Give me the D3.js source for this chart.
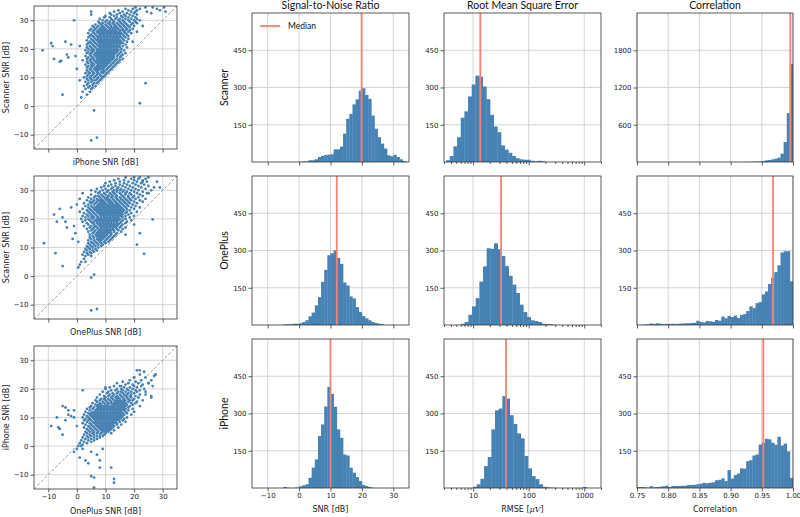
<!DOCTYPE html>
<html><head><meta charset="utf-8">
<script src="https://cdn.jsdelivr.net/npm/d3@7"></script>
<style>body{margin:0;background:#fff}</style>
</head><body><div id="chart"></div>
<script>
// ---------------- DATA ----------------
const devices = ["Scanner", "OnePlus", "iPhone"];
const metricTitles = ["Signal-to-Noise Ratio", "Root Mean Square Error", "Correlation"];
const metricLabels = ["SNR [dB]", "RMSE", "Correlation"];
const snrTicks = [-10, 0, 10, 20, 30];
const snrDomain = [-15, 35];
const countTicks = [150, 300, 450];
const countTicksBig = [600, 1200, 1800];
const rmseTicks = [10, 100, 1000];
const rmseDomain = [3, 2000];
const corrTicks = [0.75, 0.80, 0.85, 0.90, 0.95, 1.00];
const corrDomain = [0.75, 1.0];

// SNR histograms: 1 dB bins
const snrBinStart = [0, -5, -5];
const snrScanner = [1,2,3,7,7,11,20,25,28,30,31,51,51,62,114,174,194,232,252,288,297,270,254,187,134,100,74,54,27,23,29,20,11,4];
const snrOnePlus = [3,3,3,5,5,7,12,19,35,50,79,112,174,222,281,289,300,270,246,171,159,115,107,72,52,36,27,19,12,8,5,3];
const snrIPhone = [4,1,0,1,2,7,11,15,41,82,115,209,256,328,407,379,327,236,202,135,131,82,62,44,28,12,8,4,1];
const snrMedians = [19.9, 12.0, 10.0];

// RMSE histograms: log-spaced bins (start in µV, width in decades)
const rmseBinStart = [3.27, 6.08, 10.0];
const rmseBinWidthDecades = 0.0659;
const rmseScanner = [7,24,63,100,178,204,264,312,348,344,304,253,190,143,120,67,50,37,24,15,11,9,9,5,3,5,3];
const rmseOnePlus = [5,12,41,75,108,175,236,309,307,329,305,278,237,198,163,129,82,52,32,19,16,12,5,4,3,1];
const rmseIPhone = [5,15,37,88,125,236,313,320,370,360,293,258,220,200,129,79,48,36,15,5,3,1,1,0,0,0,0,0,0,0,4];
const rmseMedians = [13.5, 31.9, 39.2];

// Correlation histograms: 0.005 bins from 0.75
const corrBinStart = 0.75;
const corrBinWidth = 0.005;
const corrScanner = [0,0,0,0,0,0,0,0,0,0,0,0,0,0,0,0,0,0,0,0,0,0,0,0,0,0,0,0,0,0,0,1,1,1,2,2,3,4,6,10,16,27,32,43,54,70,134,321,787,1575];
const corrOnePlus = [0,1,2,3,6,4,7,5,3,5,4,5,4,5,6,7,7,8,9,17,12,10,16,15,13,20,17,34,27,36,32,38,28,40,44,56,75,68,88,92,123,135,165,190,213,240,292,297,297,176];
const corrIPhone = [4,4,3,1,7,3,4,5,7,9,4,8,8,8,9,9,12,12,13,15,17,21,19,21,23,31,33,39,28,72,38,52,58,79,78,108,112,131,135,175,182,198,196,182,174,206,171,179,147,40];
const corrMedians = [0.9957, 0.968, 0.9525];

// Scatter data: rows of [y, x1, x2, ...] plus outlier points [x, y]
const scanVsIphoneRows = [
 [34.5,20.5,24,26.5],[34,17,19.5,22],[33.5,14.5,18,21],[33,13,16,19,20.5],[32.5,11.5,15,17.5,20],
 [32,12,14,16.5,18.5,21],[31.5,10,13,15.5,17,19.5],[31,9.5,11.5,14,16,18,20.5],[30.5,8,12,13.5,15,17,19,21],
 [30,9,10.5,12.5,14.5,16,18,20],[29.5,7.5,10,11.5,13,15,16.5,18.5,20.5],[29,8,9,11,12.5,14,15.5,17,19.5],
 [28.5,6.5,8.5,10,11.5,13,14.5,16,17.5,19],[28,5.5,7.5,9,10.5,12,13.5,15,16.5,18,20],
 [27.5,6,7,8.5,9.5,11,12,13,14,15.5,17,18.5],[27,5,6.5,8,9,10,11.5,12.5,13.5,14.5,16,17.5,19.5],
 [26.5,4.5,6,7.5,8.5,9.5,10.5,11.5,12.5,13.5,15,16,17,18.5],[26,5.5,7,8,9,10,11,12,13,14,15,16.5,18],
 [25.5,4,6,7.5,8.5,9.5,10.5,11.5,12.5,13.5,14.5,15.5,17,19],[25,5,6.5,8,9,10,11,12,13,14,15,16,17.5],
 [24.5,4.5,5.5,7,8,9,10,11,12,13,14,15,16.5,18],[24,4,6,7.5,8.5,9.5,10.5,11.5,12.5,13.5,14.5,15.5,17],
 [23.5,5,6.5,7.5,8.5,9.5,10.5,11.5,12.5,13.5,14.5,16,18],[23,3.5,5.5,7,8,9,10,11,12,13,14,15,16.5],
 [22.5,4.5,6,7.5,8.5,9.5,10.5,11.5,12.5,13.5,14.5,15.5,17.5],[22,4,5,6.5,8,9,10,11,12,13,14,15,16],
 [21.5,3.5,5.5,7,8,9,10,11,12,13,14,15,17],[21,4.5,6,7.5,8.5,9.5,10.5,11.5,12.5,13.5,14.5,16],
 [20.5,3.5,5,6.5,8,9,10,11,12,13,14,15,17.5],[20,4,5.5,7,8,9,10,11,12,13,14,15.5],
 [19.5,3,5,6,7.5,8.5,9.5,10.5,11.5,12.5,13.5,14.5,16.5],[19,4,5.5,7,8,9,10,11,12,13,14,15.5],
 [18.5,3.5,5,6.5,7.5,8.5,9.5,10.5,11.5,12.5,13.5,15,17],[18,4.5,6,7,8,9,10,11,12,13,14.5,16],
 [17.5,3,5,6.5,7.5,8.5,9.5,10.5,11.5,12.5,14,15.5],[17,4,5.5,7,8,9,10,11,12,13,15],
 [16.5,3.5,5,6,7.5,8.5,9.5,10.5,11.5,12.5,14,16],[16,4.5,6,7,8,9,10,11,12,13.5,15],
 [15.5,3.5,5,6.5,7.5,8.5,9.5,10.5,11.5,13,14.5],[15,4,5.5,7,8,9,10,11,12.5,14],
 [14.5,3,5,6,7.5,8.5,9.5,10.5,12,13.5],[14,4,5.5,7,8,9,10,11.5,13],[13.5,3.5,5,6.5,7.5,8.5,9.5,11,12.5],
 [13,4.5,6,7,8,9,10.5,12],[12.5,3.5,5,6.5,7.5,9,10,11.5],[12,4,5.5,7,8.5,9.5,11],[11.5,3,4.5,6,7.5,9,10.5],
 [11,4,5.5,7,8,10],[10.5,3.5,5,6.5,8.5,9.5],[10,2.5,4.5,6,7.5,9],[9.5,3.5,5,7,8.5],[9,4,5.5,6.5,8],
 [8.5,3,5,7.5],[8,4,6,7],[7.5,3.5,5.5],[7,2.5,4.5,6.5],[6.5,4,5.5],[6,3,5],[5,2,4.5],[4,3.5],[3,1.5]
];
const scanVsIphoneOut = [[-12,19.5],[-9,22],[-8.5,21],[-8,16.5],[-6,15.5],[-5.5,15.8],[-4,22.5],[-3.5,18],[-2,21.5],[-3,17],[-1,30],[-5,4],[5,-12],[7,-11],[6,-1.5],[22,1],[24,8],[21,29],[24.5,33],[26,32.5],[28,34],[29,33.5],[30.5,34.5],[31,33],[5,32],[5,33],[1,21],[2,16],[0,13],[1,9],[13,24.5],[19.5,22.5],[21,26],[22,30],[23,28],[-0.5,17.5]];

const scanVsOneRows = [
 [34.5,17,22,25],[34,14.5,19,21.5,24],[33.5,13,16.5,20,23],[33,11.5,15,18,21,24.5],[32.5,10,13.5,16.5,19.5,22.5],
 [32,12,15,17.5,20.5,23.5],[31.5,9.5,11,13.5,16,18.5,21.5,25],[31,8.5,12.5,14.5,17,19.5,22.5],
 [30.5,7,10,12,14,15.5,18,20.5,24],[30,9,11,13,15,16.5,19,21.5,26],[29.5,6.5,8,10.5,12.5,14,16,17.5,20,23],
 [29,7.5,9.5,11.5,13,15,17,18.5,21,24.5],[28.5,5,8.5,10,12,13.5,15.5,17,19,22],[28,6.5,7.5,9,11,12.5,14,16,18,20,23],
 [27.5,4,6,8,9.5,10.5,12,13.5,15,16.5,18,19.5,21.5],[27,5,7,8.5,10,11,12.5,14,15.5,17,18.5,20.5,24],
 [26.5,3.5,6,7.5,9,10.5,11.5,13,14.5,16,17.5,19,22],[26,4.5,5.5,7,8.5,9.5,11,12,13.5,15,16.5,18,20,23],
 [25.5,2.5,5,6.5,8,9,10,11.5,12.5,14,15.5,17,18.5,21],[25,4,6,7.5,8.5,9.5,10.5,11.5,12.5,13.5,14.5,16,17.5,19.5],
 [24.5,3,5,7,8,9,10,11,12,13,14,15,16.5,18,20.5],[24,4,5.5,6.5,7.5,8.5,9.5,10.5,11.5,12.5,13.5,14.5,15.5,17,19,22],
 [23.5,2,4.5,6,7,8,9,10,11,12,13,14,15,16,17.5,20],[23,3.5,5,6.5,7.5,8.5,9.5,10.5,11.5,12.5,13.5,14.5,15.5,16.5,18.5],
 [22.5,1,4,5.5,7,8,9,10,11,12,13,14,15,16,17.5,21],[22,2.5,4.5,6,7.5,8.5,9.5,10.5,11.5,12.5,13.5,14.5,15.5,17,19],
 [21.5,3.5,5,6.5,8,9,10,11,12,13,14,15,16,18],[21,2,4,5.5,7,8.5,9.5,10.5,11.5,12.5,13.5,14.5,15.5,17,20],
 [20.5,3,5,6,7.5,8.5,9.5,10.5,11.5,12.5,13.5,14.5,16,18.5],[20,1.5,4,5.5,7,8,9,10,11,12,13,14,15,17],
 [19.5,3,4.5,6.5,7.5,8.5,9.5,10.5,11.5,12.5,13.5,14.5,16,19],[19,2,5,6,7,8,9,10,11,12,13,14,15.5,17.5],
 [18.5,3.5,5.5,7,8,9,10,11,12,13,14,15,17],[18,4,6,7.5,8.5,9.5,10.5,11.5,12.5,13.5,14.5,16,20],
 [17.5,2.5,5,6.5,8,9,10,11,12,13,14,15.5],[17,4.5,6,7,8.5,9.5,10.5,11.5,12.5,13.5,15,17],
 [16.5,3.5,5.5,7.5,8.5,9.5,10.5,11.5,12.5,14,16],[16,5,6.5,8,9,10,11,12,13,14.5],
 [15.5,4,6,7.5,8.5,9.5,10.5,11.5,13,15.5],[15,5.5,7,8,9,10,11,12,14],[14.5,4.5,6.5,7.5,8.5,9.5,10.5,12,13.5,17],
 [14,5.5,7,8,9,10,11.5,13],[13.5,4.5,6,7.5,8.5,9.5,11,12.5],[13,5,7,8,9,10.5,12],[12.5,4,6,7.5,8.5,10,11.5],
 [12,5,6.5,8,9.5,11],[11.5,4,5.5,7,8.5,10],[11,4.5,6,7.5,9],[10.5,3.5,5,6.5,8.5],[10,4,5.5,7.5],[9.5,3,4.5,6.5],
 [9,3.5,5.5,7],[8.5,2.5,4.5,6],[8,3.5,5],[7.5,2,4],[7,3,5],[6,2.5],[5,1.5,3],[4,1],[3,0.5]
];
const scanVsOneOut = [[-11.5,11.5],[-8,21.5],[-7,19],[-6,23.5],[-5,20.5],[-4,19],[-3.5,17],[-2,24],[-1,17.5],[-0.5,15],[0,25],[-7.5,8],[-5,3.5],[-1.5,13],[0.5,12],[1,27],[2,29],[5,-12],[7,-11.5],[5,-0.5],[6,0.5],[23.5,7.8],[26.5,19.8],[27,31],[28,33],[25,29],[29,31],[23,33],[20,34.5],[11,28],[14,30],[21,11],[22,15],[8,26.5],[5,30]];

const iphVsOneRows = [
 [26.5,21],[26,23.5],[25,22,27.5],[24,20,24],[23,18.5,22.5,26],[22.5,16,20.5],[22,14,18,21.5,25],[21.5,17,19.5,23],
 [21,13,15.5,20,22.5,26.5],[20.5,11.5,16.5,18.5,21],[20,10,14,15.5,17.5,19.5,23.5],[19.5,12,13.5,16,18,20.5,22],
 [19,9,11,14.5,15.5,17,19,21,24],[18.5,10.5,12.5,14,16,18,20],[18,8,11.5,13,15,16.5,17.5,19,22],
 [17.5,9.5,11,12.5,14,15.5,17,18.5,20.5],[17,7,10,12,13.5,14.5,16,17.5,19,21.5,26],
 [16.5,8.5,9.5,11,12.5,14,15,16.5,18,20],[16,6.5,8,10,11.5,13,14,15,16,17,18.5,19.5,23],
 [15.5,7,9,10.5,12,13.5,14.5,15.5,16.5,18,21],[15,5.5,8,9.5,11,12,13,14,15,16,17,19,20.5],
 [14.5,6.5,7.5,8.5,10,11,12.5,13.5,14.5,15.5,16.5,17.5,19.5],[14,5,7,8,9,10,11,12,13,14,15,16,17,18.5,22],
 [13.5,4.5,6,7.5,8.5,9.5,10.5,11.5,12.5,13.5,14.5,15.5,16.5,18],[13,3.5,5.5,7,8,9,10,11,12,13,14,15,16,17,19.5],
 [12.5,4.5,6.5,7.5,8.5,9.5,10.5,11.5,12.5,13.5,14.5,15.5,16.5,18],[12,3,5.5,6.5,7.5,8.5,9.5,10.5,11.5,12.5,13.5,14.5,15.5,17,20],
 [11.5,4,5,6,7,8,9,10,11,12,13,14,15,16,17.5],[11,2.5,4.5,5.5,6.5,7.5,8.5,9.5,10.5,11.5,12.5,13.5,14.5,15.5,16.5,19],
 [10.5,3.5,5,6,7,8,9,10,11,12,13,14,15,16],[10,2,4,5.5,6.5,7.5,8.5,9.5,10.5,11.5,12.5,13.5,14.5,15.5,17.5],
 [9.5,3,4.5,6,7,8,9,10,11,12,13,14,15,16.5],[9,2.5,4,5,6.5,7.5,8.5,9.5,10.5,11.5,12.5,13.5,14.5,16],
 [8.5,3.5,5.5,6.5,7.5,8.5,9.5,10.5,11.5,12.5,13.5,15,17],[8,2,4.5,6,7,8,9,10,11,12,13,14],
 [7.5,3,5,6.5,7.5,8.5,9.5,10.5,11.5,12.5,14,15.5],[7,4,5.5,7,8,9,10,11,12,13],
 [6.5,2.5,4.5,6,7.5,8.5,9.5,10.5,11.5,12.5,14.5],[6,3.5,5,6.5,8,9,10,11,12],[5.5,4,5.5,7,8.5,9.5,10.5,11.5,13],
 [5,3,4.5,6,7.5,9,10,11],[4.5,3.5,5.5,7,8.5,10,12],[4,2.5,4.5,6,8,9.5],[3.5,3.5,5,7,9],[3,2,4,6,8],
 [2.5,3,5,7],[2,1.5,4,6],[1.5,2.5,5],[1,1,3.5],[0.5,2],[0,0.5,1.5],[-1,0,2],[-2,-1]
];
const iphVsOneOut = [[-9,7],[-7,10],[-6.5,6.5],[-6,6],[-5,4],[-5,14],[-4,13.5],[-3,12.5],[-3,11],[-2,10.5],[-1,10],[-1,12.5],[0,7],[-4,9],[2,19.5],[5,-10.5],[6,-11],[6,-14.5],[7,-3],[8,-7.5],[8,-5],[12,-7.5],[13,-11.5],[13,-12.8],[5,-2],[3,-5],[9,-1],[10,20.5],[15,21],[20,24],[22,26.5],[25,22],[27,24.5],[26,17.5],[27.5,25],[24,18],[1,-4],[4,-6]];

// ---------------- DRAW ----------------
const BLUE = "#4682b4", MED = "#fa8072", GRID = "#cfcfcf", SPINE = "#333";
const svg = d3.select("#chart").append("svg").attr("width", 800).attr("height", 517)
  .style("font-family", "DejaVu Sans");
const defs = svg.append("defs");

function styleAxis(g, labels) {
  g.select(".domain").remove();
  g.selectAll(".tick line").attr("stroke", SPINE).attr("stroke-width", 0.8);
  g.selectAll(".tick text").attr("fill", "#222").style("font-size", "7px").style("font-family", "DejaVu Sans");
  if (!labels) g.selectAll(".tick text").remove();
}
const fmtMinus = v => (v < 0 ? "\u2212" + Math.abs(v) : "" + v);

// Scatter panels
const spX = [34, 177], spRows = [6, 176, 346], spH = 143;
const scatterDefs = [
  { rows: scanVsIphoneRows, out: scanVsIphoneOut, xl: "iPhone SNR [dB]", yl: "Scanner SNR [dB]" },
  { rows: scanVsOneRows, out: scanVsOneOut, xl: "OnePlus SNR [dB]", yl: "Scanner SNR [dB]" },
  { rows: iphVsOneRows, out: iphVsOneOut, xl: "OnePlus SNR [dB]", yl: "iPhone SNR [dB]" }
];
scatterDefs.forEach((d, i) => {
  const top = spRows[i], bot = top + spH;
  const x = d3.scaleLinear().domain(snrDomain).range(spX);
  const y = d3.scaleLinear().domain(snrDomain).range([bot, top]);
  const g = svg.append("g");
  const cid = "clipS" + i;
  defs.append("clipPath").attr("id", cid).append("rect").attr("x", spX[0]).attr("y", top).attr("width", spX[1] - spX[0]).attr("height", spH);
  g.selectAll(".gx").data(snrTicks).join("line").attr("x1", v => x(v)).attr("x2", v => x(v)).attr("y1", top).attr("y2", bot).attr("stroke", GRID).attr("stroke-width", 0.9);
  g.selectAll(".gy").data(snrTicks).join("line").attr("y1", v => y(v)).attr("y2", v => y(v)).attr("x1", spX[0]).attr("x2", spX[1]).attr("stroke", GRID).attr("stroke-width", 0.9);
  const pts = [];
  d.rows.forEach(r => r.slice(1).forEach(v => pts.push([v, r[0]])));
  d.out.forEach(p => pts.push(p));
  const pg = g.append("g").attr("clip-path", `url(#${cid})`);
  pg.selectAll("circle").data(pts).join("circle").attr("cx", p => x(p[0])).attr("cy", p => y(p[1])).attr("r", 1.4).attr("fill", BLUE);
  pg.append("line").attr("x1", x(snrDomain[0])).attr("y1", y(snrDomain[0])).attr("x2", x(snrDomain[1])).attr("y2", y(snrDomain[1]))
    .attr("stroke", "#888").attr("stroke-width", 0.8).attr("stroke-dasharray", "3,2");
  g.append("rect").attr("x", spX[0]).attr("y", top).attr("width", spX[1] - spX[0]).attr("height", spH).attr("fill", "none").attr("stroke", SPINE).attr("stroke-width", 0.8);
  const ax = g.append("g").attr("transform", `translate(0,${bot})`).call(d3.axisBottom(x).tickValues(snrTicks).tickSize(3.5).tickPadding(2).tickFormat(fmtMinus));
  styleAxis(ax, i === 2);
  const ay = g.append("g").attr("transform", `translate(${spX[0]},0)`).call(d3.axisLeft(y).tickValues(snrTicks).tickSize(3.5).tickPadding(2).tickFormat(fmtMinus));
  styleAxis(ay, true);
  g.append("text").attr("x", (spX[0] + spX[1]) / 2).attr("y", i === 2 ? bot + 25 : bot + 16).attr("text-anchor", "middle").style("font-size", "8px").attr("fill", "#222").text(d.xl);
  g.append("text").attr("transform", `translate(9,${(top + bot) / 2}) rotate(-90)`).attr("text-anchor", "middle").style("font-size", "8px").attr("fill", "#222").text(d.yl);
});

// Histogram panels
const hCols = [[252, 409], [444, 601], [637, 793]], hRows = [13, 176, 339], hH = 149;
const snrData = [snrScanner, snrOnePlus, snrIPhone];
const rmseData = [rmseScanner, rmseOnePlus, rmseIPhone];
const corrData = [corrScanner, corrOnePlus, corrIPhone];

for (let c = 0; c < 3; c++) {
  for (let r = 0; r < 3; r++) {
    const top = hRows[r], bot = top + hH, [l, rt] = hCols[c];
    const g = svg.append("g");
    let x, bins, xt, med, fmt;
    if (c === 0) {
      x = d3.scaleLinear().domain(snrDomain).range([l, rt]);
      bins = snrData[r].map((v, k) => ({ a: snrBinStart[r] + k, b: snrBinStart[r] + k + 1, n: v }));
      xt = snrTicks; med = snrMedians[r]; fmt = fmtMinus;
    } else if (c === 1) {
      x = d3.scaleLog().domain(rmseDomain).range([l, rt]);
      const s = Math.log10(rmseBinStart[r]);
      bins = rmseData[r].map((v, k) => ({ a: Math.pow(10, s + k * rmseBinWidthDecades), b: Math.pow(10, s + (k + 1) * rmseBinWidthDecades), n: v }));
      xt = rmseTicks; med = rmseMedians[r]; fmt = d => "" + d;
    } else {
      x = d3.scaleLinear().domain(corrDomain).range([l, rt]);
      bins = corrData[r].map((v, k) => ({ a: corrBinStart + k * corrBinWidth, b: corrBinStart + (k + 1) * corrBinWidth, n: v }));
      xt = corrTicks; med = corrMedians[r]; fmt = d3.format(".2f");
    }
    const big = (c === 2 && r === 0);
    const y = d3.scaleLinear().domain([0, big ? 2400 : 600]).range([bot, top]);
    const yt = big ? countTicksBig : countTicks;
    g.selectAll(".gx").data(xt).join("line").attr("x1", v => x(v)).attr("x2", v => x(v)).attr("y1", top).attr("y2", bot).attr("stroke", GRID).attr("stroke-width", 0.9);
    g.selectAll(".gy").data(yt).join("line").attr("y1", v => y(v)).attr("y2", v => y(v)).attr("x1", l).attr("x2", rt).attr("stroke", GRID).attr("stroke-width", 0.9);
    const cid = `clipH${c}${r}`;
    defs.append("clipPath").attr("id", cid).append("rect").attr("x", l).attr("y", top).attr("width", rt - l).attr("height", hH);
    const bg = g.append("g").attr("clip-path", `url(#${cid})`);
    bg.selectAll("rect").data(bins.filter(b => b.n > 0)).join("rect")
      .attr("x", b => x(b.a)).attr("width", b => Math.max(0.5, x(b.b) - x(b.a) + 0.3))
      .attr("y", b => y(b.n)).attr("height", b => y(0) - y(b.n)).attr("fill", BLUE);
    bg.append("line").attr("x1", x(med)).attr("x2", x(med)).attr("y1", top).attr("y2", bot).attr("stroke", MED).attr("stroke-width", 1.8);
    g.append("rect").attr("x", l).attr("y", top).attr("width", rt - l).attr("height", hH).attr("fill", "none").attr("stroke", SPINE).attr("stroke-width", 0.8);
    const ax = g.append("g").attr("transform", `translate(0,${bot})`).call(d3.axisBottom(x).tickValues(xt).tickSize(3.5).tickPadding(2).tickFormat(fmt));
    styleAxis(ax, r === 2);
    if (c === 1) {
      const minor = x.ticks().filter(v => !rmseTicks.includes(v));
      const am = g.append("g").attr("transform", `translate(0,${bot})`).call(d3.axisBottom(x).tickValues(minor).tickSize(2).tickFormat(""));
      styleAxis(am, false);
    }
    const ay = g.append("g").attr("transform", `translate(${l},0)`).call(d3.axisLeft(y).tickValues(yt).tickSize(3.5).tickPadding(2).tickFormat(d3.format("d")));
    styleAxis(ay, true);
    if (r === 0) {
      g.append("text").attr("x", (l + rt) / 2).attr("y", 9).attr("text-anchor", "middle").style("font-family", "Lato").style("font-size", "10.5px").attr("fill", "#111").text(metricTitles[c]);
    }
    if (c === 0) {
      g.append("text").attr("transform", `translate(228,${(top + bot) / 2}) rotate(-90)`).attr("text-anchor", "middle").style("font-family", "Lato").style("font-size", "10.5px").attr("fill", "#111").text(devices[r]);
    }
    if (r === 2) {
      const t = g.append("text").attr("x", (l + rt) / 2).attr("y", bot + 24).attr("text-anchor", "middle").style("font-size", "8px").attr("fill", "#222");
      if (c === 1) {
        t.append("tspan").text("RMSE [");
        t.append("tspan").style("font-style", "italic").style("font-family", "DejaVu Serif").text("\u03bcV");
        t.append("tspan").text("]");
      } else t.text(metricLabels[c]);
    }
    if (c === 0 && r === 0) {
      g.append("line").attr("x1", l + 8).attr("x2", l + 28).attr("y1", top + 13).attr("y2", top + 13).attr("stroke", MED).attr("stroke-width", 1.8);
      g.append("text").attr("x", l + 36).attr("y", top + 16).style("font-family", "Lato").style("font-size", "8.5px").attr("fill", "#111").text("Median");
    }
  }
}
</script>
</body></html>
